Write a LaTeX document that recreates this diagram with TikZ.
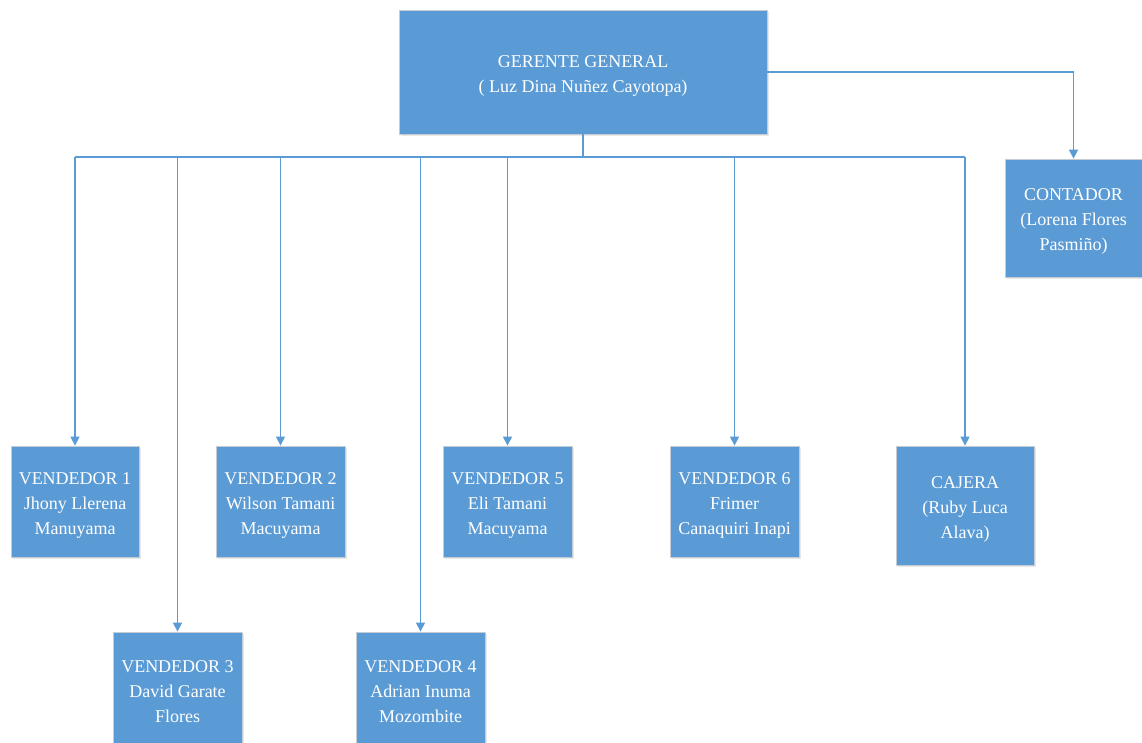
\documentclass[tikz,border=0pt]{standalone}
\usepackage{fontspec}
\setmainfont{Liberation Serif}
\usetikzlibrary{arrows.meta,shadows}
\definecolor{boxblue}{HTML}{5B9BD5}
\definecolor{boxedge}{HTML}{C5CCD4}
\definecolor{linkblue}{HTML}{5B9BD5}
% an empty leading row that nudges the text block slightly downwards
\newcommand\lowertext{{}\\[-6pt]}
\tikzset{
  orgbox/.style={draw=boxedge, line width=0.8pt, fill=boxblue, text=white,
    align=center, inner sep=2pt, font=\fontsize{18}{25}\selectfont,
    drop shadow={opacity=0.18, shadow xshift=1.5pt, shadow yshift=-2pt}},
  link/.style={draw=linkblue, line width=1.3pt},
  arr/.style={link, -{Triangle[width=9pt,length=9pt]}}
}
\begin{document}
\begin{tikzpicture}[x=1pt,y=-1pt]
  \useasboundingbox (0,0) rectangle (1142,742);
  \clip (0,0) rectangle (1142,742);
  \fill[white] (0,0) rectangle (1142,742);

  % boxes
  \node[orgbox, minimum width=368pt, minimum height=124pt] (g) at (583,72)
    {\lowertext GERENTE GENERAL\\( Luz Dina Nuñez Cayotopa)};
  \node[orgbox, minimum width=137pt, minimum height=118pt] (c) at (1073.5,218)
    {\lowertext CONTADOR\\(Lorena Flores\\Pasmiño)};
  \node[orgbox, minimum width=128pt, minimum height=111pt] (v1) at (75,501.5)
    {\lowertext VENDEDOR 1\\Jhony Llerena\\Manuyama};
  \node[orgbox, minimum width=129pt, minimum height=111pt] (v2) at (280.5,501.5)
    {\lowertext VENDEDOR 2\\Wilson Tamani\\Macuyama};
  \node[orgbox, minimum width=129pt, minimum height=112pt] (v3) at (177.5,688)
    {\lowertext VENDEDOR 3\\David Garate\\Flores};
  \node[orgbox, minimum width=129pt, minimum height=112pt] (v4) at (420.5,688)
    {\lowertext VENDEDOR 4\\Adrian Inuma\\Mozombite};
  \node[orgbox, minimum width=129pt, minimum height=111pt] (v5) at (507.5,501.5)
    {\lowertext VENDEDOR 5\\Eli Tamani\\Macuyama};
  \node[orgbox, minimum width=129pt, minimum height=111pt] (v6) at (734.5,501.5)
    {\lowertext VENDEDOR 6\\Frimer\\Canaquiri Inapi};
  \node[orgbox, minimum width=138pt, minimum height=119pt] (cj) at (965,505.5)
    {\lowertext CAJERA\\(Ruby Luca\\Alava)};

  % distribution bus under the manager
  \coordinate (bus) at (583,157);
  \draw[link] (g.south) -- (bus);
  \draw[link] (v1.north |- bus) -- (cj.north |- bus);
  \foreach \n in {v1,v2,v3,v4,v5,v6,cj}
    \draw[arr] (\n.north |- bus) -- (\n.north);

  % accountant branch
  \draw[arr] (g.east) -- (g.east -| c.north) -- (c.north);
\end{tikzpicture}
\end{document}
